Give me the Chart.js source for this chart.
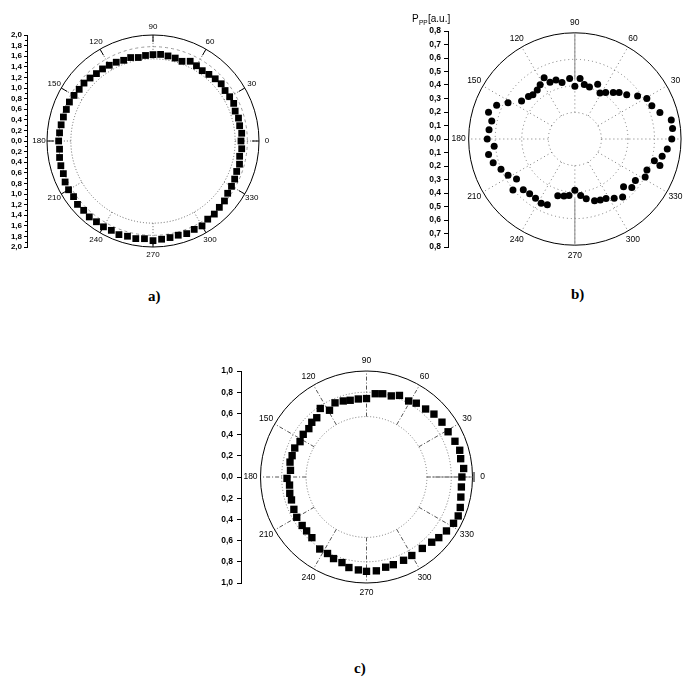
<!DOCTYPE html>
<html>
<head>
<meta charset="utf-8">
<script src="https://cdn.jsdelivr.net/npm/chart.js@4.4.0/dist/chart.umd.min.js"></script>
<style>
body { margin:0; background:#fff; width:688px; height:683px; position:relative; overflow:hidden; }
.box { position:absolute; }
.cap { position:absolute; font:bold 15px 'Liberation Serif', serif; color:#000; }
</style>
</head>
<body>
<div class="box" style="left:0;top:20px"><canvas id="chartA" width="300" height="250"></canvas></div>
<div class="box" style="left:340px;top:0"><canvas id="chartB" width="348" height="280"></canvas></div>
<div class="box" style="left:200px;top:340px"><canvas id="chartC" width="320" height="270"></canvas></div>
<div class="cap" style="left:148px;top:288px">a)</div>
<div class="cap" style="left:571px;top:286px">b)</div>
<div class="cap" style="left:354px;top:660px">c)</div>
<script>
// polar angle ticks
const angleTicks = [0, 30, 60, 90, 120, 150, 180, 210, 240, 270, 300, 330];
const angleLabels = ['0', '30', '60', '90', '120', '150', '180', '210', '240', '270', '300', '330'];

// a) angle (deg) / radius
const aAngles = [0,5,10,15,20,25,30,35,40,45,50,55,60,65,70,75,80,85,90,95,100,105,110,115,
  120,125,130,135,140,145,150,155,160,165,170,175,180,185,190,195,200,205,210,215,220,225,230,235,
  240,245,250,255,260,265,270,275,280,285,290,295,300,305,310,315,320,325,330,335,340,345,350,355];
const aValues = [1.66,1.68,1.66,1.67,1.65,1.68,1.67,1.66,1.68,1.66,1.64,1.62,1.64,1.66,1.60,1.62,1.63,1.64,1.63,1.62,1.60,1.63,1.62,1.64,
  1.65,1.66,1.66,1.68,1.70,1.70,1.72,1.74,1.74,1.75,1.76,1.77,1.78,1.77,1.79,1.80,1.80,1.83,1.84,1.83,1.86,1.85,1.87,1.86,
  1.87,1.86,1.88,1.86,1.87,1.85,1.88,1.86,1.85,1.84,1.86,1.84,1.85,1.80,1.80,1.77,1.76,1.72,1.71,1.70,1.68,1.69,1.66,1.68];

// b) angle (deg) / P_PP [a.u.]
const bAngles = [0,6,11,17,23,29,34,40,46,50,56,61,67,74,80,85,90,95,103,108,114,117,123,128,134,138,145,152,157,163,168,174,
  180,185,190,196,202,208,214,219,224,230,236,242,247,253,259,264,270,276,281,288,293,298,304,310,316,320,326,332,337,343,345,349,354];
const bValues = [0.73,0.74,0.74,0.67,0.63,0.62,0.57,0.51,0.48,0.45,0.415,0.39,0.44,0.40,0.41,0.45,0.39,0.45,0.43,0.46,0.46,0.51,0.48,0.46,0.455,0.47,0.49,0.57,0.64,0.68,0.64,0.65,
  0.66,0.61,0.66,0.64,0.60,0.57,0.53,0.60,0.54,0.53,0.53,0.54,0.53,0.44,0.43,0.42,0.38,0.42,0.45,0.48,0.49,0.50,0.53,0.56,0.51,0.56,0.55,0.60,0.59,0.67,0.62,0.67,0.70];

// c) angle (deg) / radius
const cAngles = [0,5,11,16,22,29,36,43,49,56,61,68,73,79,84,90,96,102,107,113,119,124,130,135,140,146,152,158,164,169,175,
  181,186,192,197,204,210,217,222,228,237,243,248,254,259,265,270,276,282,287,294,300,308,315,320,326,332,337,342,348,354];
const cValues = [0.90,0.92,0.905,0.915,0.90,0.88,0.88,0.87,0.85,0.84,0.82,0.83,0.80,0.80,0.79,0.74,0.74,0.74,0.75,0.76,0.72,0.78,0.73,0.73,0.71,0.72,0.71,0.73,0.73,0.735,0.72,
  0.75,0.73,0.74,0.74,0.75,0.76,0.76,0.76,0.77,0.81,0.81,0.83,0.84,0.87,0.88,0.89,0.89,0.87,0.865,0.86,0.855,0.855,0.87,0.89,0.91,0.93,0.94,0.93,0.91,0.90];

const FONT = "'Liberation Sans', Arial, sans-serif";

const panels = [
  { id: 'chartA', left: 0, top: 20, w: 300, h: 250, axisX: 27, yTop: 35, yBot: 247, cx: 153, R: 2, padR: 20,
    step: 0.2, minor: true, fs: 8, tickLen: 3, tickPad: 2, labelOff: 8,
    angles: aAngles, values: aValues, point: 'rect', pr: 4.8,
    rings: [{ r: 1.55, dash: [1, 2], color: '#666' }, { r: 1.78, dash: [3, 3], color: '#999' }, { r: 2, dash: [], color: '#000' }],
    spokes: { from: 1.55, to: 2, dash: [1, 2], color: '#666' }, edgeTick: 7 },
  { id: 'chartB', left: 340, top: 0, w: 348, h: 280, axisX: 448, yTop: 31, yBot: 247, cx: 577, R: 0.8, padR: 0,
    step: 0.1, minor: false, fs: 8.5, tickLen: 4, tickPad: 3, labelOff: 10,
    angles: bAngles, values: bValues, point: 'circle', pr: 3.5,
    rings: [{ r: 0.2, dash: [1, 3], color: '#777' }, { r: 0.4, dash: [1, 3], color: '#777' }, { r: 0.6, dash: [1, 3], color: '#777' }, { r: 0.8, dash: [], color: '#000' }],
    spokes: { from: 0.2, to: 0.8, dash: [1, 3], color: '#777' }, solidSpokes: [90, 270], edgeTick: 0, title: true },
  { id: 'chartC', left: 200, top: 340, w: 320, h: 270, axisX: 241, yTop: 371, yBot: 583, cx: 366.5, R: 1, padR: 20,
    step: 0.2, minor: false, fs: 8.5, tickLen: 4, tickPad: 4, labelOff: 10,
    angles: cAngles, values: cValues, point: 'rect', pr: 5.2,
    rings: [{ r: 0.57, dash: [1, 2], color: '#777' }, { r: 0.8, dash: [1, 2], color: '#777' }, { r: 1, dash: [], color: '#000' }],
    spokes: { from: 0.57, to: 1, dash: [4, 2, 1, 2], color: '#555' }, zeroLine: true, edgeTick: 0 }
];

function polarGrid(p) {
  return {
    id: 'polarGrid',
    beforeDatasetsDraw(chart) {
      const ctx = chart.ctx;
      const xs = chart.scales.x, ys = chart.scales.y;
      const cx = xs.getPixelForValue(0), cy = ys.getPixelForValue(0);
      const k = xs.getPixelForValue(1) - cx;
      ctx.save();
      ctx.lineWidth = 1;
      p.rings.forEach(g => {
        ctx.beginPath();
        ctx.setLineDash(g.dash);
        ctx.strokeStyle = g.color;
        ctx.arc(cx, cy, g.r * k, 0, Math.PI * 2);
        ctx.stroke();
      });
      angleTicks.forEach(a => {
        const t = a * Math.PI / 180, c = Math.cos(t), s = -Math.sin(t);
        const solid = p.solidSpokes && p.solidSpokes.includes(a);
        ctx.beginPath();
        ctx.setLineDash(p.spokes.dash);
        ctx.strokeStyle = p.spokes.color;
        ctx.moveTo(cx + c * p.spokes.from * k, cy + s * p.spokes.from * k);
        ctx.lineTo(cx + c * p.spokes.to * k, cy + s * p.spokes.to * k);
        ctx.stroke();
        if (solid) {
          ctx.beginPath();
          ctx.setLineDash([]);
          ctx.strokeStyle = '#888';
          ctx.moveTo(cx + c * 0.45 * k, cy + s * 0.45 * k);
          ctx.lineTo(cx + c * p.R * k, cy + s * p.R * k);
          ctx.stroke();
        }
        if (p.edgeTick) {
          ctx.beginPath();
          ctx.setLineDash([]);
          ctx.strokeStyle = '#000';
          const r0 = p.R * k - p.edgeTick;
          ctx.moveTo(cx + c * r0, cy + s * r0);
          ctx.lineTo(cx + c * p.R * k, cy + s * p.R * k);
          ctx.stroke();
        }
      });
      if (p.zeroLine) {
        ctx.setLineDash([]);
        ctx.strokeStyle = '#888';
        ctx.beginPath();
        ctx.moveTo(cx + 0.62 * k, cy);
        ctx.lineTo(cx + p.R * k, cy);
        ctx.stroke();
        ctx.strokeStyle = '#000';
        ctx.beginPath();
        ctx.moveTo(cx + p.R * k + 1.5, cy - 5);
        ctx.lineTo(cx + p.R * k + 1.5, cy + 5);
        ctx.stroke();
      }
      ctx.restore();
    },
    afterDraw(chart) {
      const ctx = chart.ctx;
      const xs = chart.scales.x, ys = chart.scales.y;
      const cx = xs.getPixelForValue(0), cy = ys.getPixelForValue(0);
      const k = xs.getPixelForValue(1) - cx;
      ctx.save();
      ctx.fillStyle = '#000';
      ctx.font = p.fs + 'px ' + FONT;
      ctx.textAlign = 'center';
      ctx.textBaseline = 'middle';
      angleTicks.forEach((a, i) => {
        const t = a * Math.PI / 180, rr = p.R * k + p.labelOff;
        ctx.fillText(angleLabels[i], cx + Math.cos(t) * rr, cy - Math.sin(t) * rr);
      });
      // minor ticks on the left axis
      if (p.minor) {
        const ax = chart.chartArea.left;
        ctx.strokeStyle = '#000';
        ctx.lineWidth = 1;
        for (let v = -p.R + p.step / 2; v < p.R; v += p.step) {
          const y = Math.round(ys.getPixelForValue(v)) + 0.5;
          ctx.beginPath();
          ctx.moveTo(ax - 2, y);
          ctx.lineTo(ax, y);
          ctx.stroke();
        }
      }
      if (p.title) {
        ctx.textAlign = 'left';
        ctx.textBaseline = 'alphabetic';
        ctx.font = '10px ' + FONT;
        ctx.fillText('P', 72, 22);
        ctx.font = '6.5px ' + FONT;
        ctx.fillText('PP', 79, 25);
        ctx.font = '10px ' + FONT;
        ctx.fillText('[a.u.]', 88, 22);
      }
      ctx.restore();
    }
  };
}

function makeChart(p) {
  const ppu = (p.yBot - p.yTop) / (2 * p.R);
  const axisLocal = p.axisX - p.left;
  const cxLocal = p.cx - p.left;
  const xMin = -(cxLocal - axisLocal) / ppu;
  const xMax = (p.w - p.padR - cxLocal) / ppu;
  const pts = p.angles.map((a, i) => {
    const t = a * Math.PI / 180;
    return { x: p.values[i] * Math.cos(t), y: p.values[i] * Math.sin(t) };
  });
  return new Chart(document.getElementById(p.id), {
    type: 'scatter',
    data: {
      datasets: [{
        data: pts,
        pointStyle: p.point,
        pointRadius: p.pr,
        backgroundColor: '#000',
        borderColor: '#000',
        borderWidth: 0
      }]
    },
    options: {
      responsive: false,
      animation: false,
      devicePixelRatio: 1,
      layout: { padding: { left: 0, right: p.padR, top: p.yTop - p.top, bottom: p.top + p.h - p.yBot } },
      plugins: { legend: { display: false }, tooltip: { enabled: false } },
      scales: {
        x: { type: 'linear', display: false, min: xMin, max: xMax },
        y: {
          type: 'linear', min: -p.R, max: p.R,
          afterFit: s => { s.width = axisLocal; },
          border: { display: true, color: '#000', width: 1 },
          grid: { drawOnChartArea: false, drawTicks: true, tickLength: p.tickLen, color: '#000' },
          ticks: {
            stepSize: p.step, autoSkip: false, padding: p.tickPad, color: '#000',
            font: { family: FONT, size: p.fs, weight: 'bold' },
            callback: v => Math.abs(v).toFixed(1).replace('.', ',')
          }
        }
      }
    },
    plugins: [polarGrid(p)]
  });
}

panels.forEach(makeChart);
</script>
</body>
</html>
